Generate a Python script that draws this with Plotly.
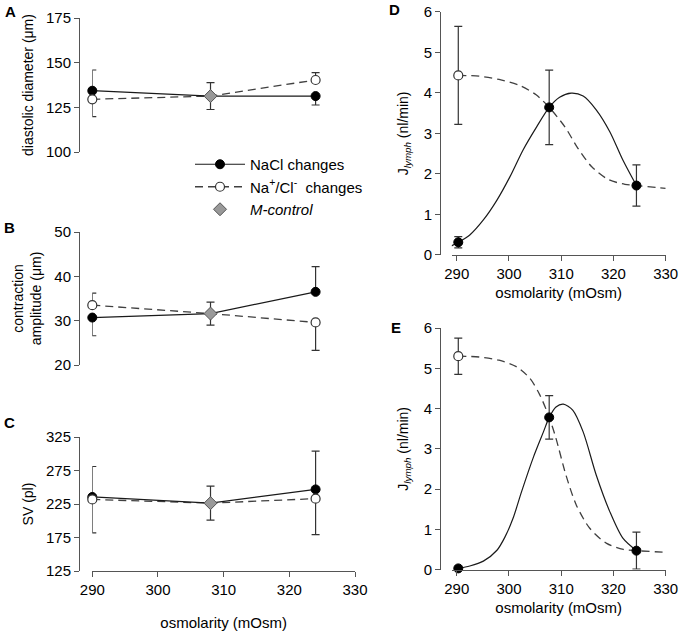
import plotly.graph_objects as go

W, H = 681, 633

# ---- panels A-C (left), osmolarity of the three solutions
osm_left = [290, 308, 324]
osm_ends = [290, 324]

# A: diastolic diameter (um)
a_ctrl, a_ctrl_err = 131.3, 7.5
a_nacl = [134.3, 131.3]
a_nacl_up = [11.6, 0]
a_nacl_dn = [0, 5.0]
a_ion = [129.5, 140.3]
a_ion_up = [0, 4.1]
a_ion_dn = [9.7, 0]

# B: contraction amplitude (um)
b_ctrl, b_ctrl_err = 31.6, 2.6
b_nacl = [30.7, 36.5]
b_nacl_up = [0, 5.7]
b_nacl_dn = [4.1, 0]
b_ion = [33.5, 29.6]
b_ion_up = [2.7, 0]
b_ion_dn = [0, 6.3]

# C: stroke volume (pl)
c_ctrl, c_ctrl_err = 226.3, 25.3
c_nacl = [235.5, 246.8]
c_nacl_up = [45.5, 57.0]
c_nacl_dn = [0, 0]
c_ion = [231.8, 233.0]
c_ion_up = [0, 0]
c_ion_dn = [50.0, 53.6]

# ---- panels D-E (right), lymph flow
osm_right = [290.3, 307.7, 324.4]

d_nacl = [0.31, 3.64, 1.71]
d_nacl_err = [0.14, 0.92, 0.51]
d_ion0, d_ion0_err = 4.43, 1.21
d_fit_nacl_x = [289.0, 290.3, 292.5, 295.1, 297.7, 300.2, 302.7, 305.3, 307.7,
                309.7, 311.9, 314.2, 316.7, 319.3, 321.8, 324.4]
d_fit_nacl_y = [0.22, 0.31, 0.49, 0.86, 1.35, 1.93, 2.59, 3.16, 3.64,
                3.89, 3.99, 3.92, 3.58, 3.04, 2.34, 1.71]
d_fit_ion_x = [290.3, 294.3, 298.1, 301.9, 305.2, 307.7, 310.7, 313.2, 315.8,
               319.0, 322.2, 324.4, 330.0]
d_fit_ion_y = [4.43, 4.41, 4.33, 4.19, 3.95, 3.64, 3.16, 2.63, 2.18,
               1.86, 1.74, 1.71, 1.64]

e_nacl = [0.03, 3.78, 0.47]
e_nacl_err = [0.03, 0.54, 0.46]
e_ion0, e_ion0_err = 5.30, 0.45
e_fit_nacl_x = [290.3, 292.5, 295.1, 297.7, 299.2, 300.8, 302.4, 304.7, 306.6,
                307.7, 309.0, 310.4, 312.2, 314.2, 316.7, 319.3, 321.8, 324.4]
e_fit_nacl_y = [0.03, 0.09, 0.21, 0.48, 0.80, 1.28, 1.93, 2.80, 3.42,
                3.78, 4.04, 4.11, 3.96, 3.42, 2.35, 1.44, 0.78, 0.47]
e_fit_ion_x = [290.3, 294.3, 298.1, 301.4, 304.0, 305.9, 307.7, 309.0, 310.9,
               312.9, 315.5, 318.7, 321.9, 324.4, 330.0]
e_fit_ion_y = [5.30, 5.28, 5.20, 5.04, 4.75, 4.34, 3.78, 3.26, 2.35,
               1.60, 1.02, 0.65, 0.50, 0.47, 0.43]

FONT = "Arial, Liberation Sans, sans-serif"
SOLID = "#1a1a1a"
DASHED = "#404040"
ERR = "#333333"
AXIS = "#555555"
DASH = "8px,5px"


def err(up, dn=None):
    return dict(type="data", array=up, arrayminus=dn if dn is not None else up,
                symmetric=False, color=ERR, thickness=1.2, width=4)


filled = dict(symbol="circle", size=9, color="black", line=dict(color="black", width=1))
hollow = dict(symbol="circle", size=9, color="white", line=dict(color="#333333", width=1.2))
diamond = dict(symbol="diamond", size=10, color="#999999", line=dict(color="#555555", width=1))

fig = go.Figure()

left = [
    ("", a_ctrl, a_ctrl_err, a_nacl, a_nacl_up, a_nacl_dn, a_ion, a_ion_up, a_ion_dn),
    ("2", b_ctrl, b_ctrl_err, b_nacl, b_nacl_up, b_nacl_dn, b_ion, b_ion_up, b_ion_dn),
    ("3", c_ctrl, c_ctrl_err, c_nacl, c_nacl_up, c_nacl_dn, c_ion, c_ion_up, c_ion_dn),
]
for k, ctrl, ctrl_e, nacl, n_up, n_dn, ion, i_up, i_dn in left:
    xa, ya = "x" + k, "y" + k
    fig.add_trace(go.Scatter(x=osm_left, y=[ion[0], ctrl, ion[1]], mode="lines",
                             line=dict(color=DASHED, width=1.3, dash=DASH), cliponaxis=False,
                             xaxis=xa, yaxis=ya, showlegend=False))
    fig.add_trace(go.Scatter(x=osm_left, y=[nacl[0], ctrl, nacl[1]], mode="lines",
                             line=dict(color=SOLID, width=1.2), cliponaxis=False,
                             xaxis=xa, yaxis=ya, showlegend=False))
    fig.add_trace(go.Scatter(x=osm_ends, y=nacl, mode="markers", marker=filled, cliponaxis=False,
                             error_y=err(n_up, n_dn), xaxis=xa, yaxis=ya, showlegend=False))
    fig.add_trace(go.Scatter(x=osm_ends, y=ion, mode="markers", marker=hollow, cliponaxis=False,
                             error_y=err(i_up, i_dn), xaxis=xa, yaxis=ya, showlegend=False))
    fig.add_trace(go.Scatter(x=[osm_left[1]], y=[ctrl], mode="markers", marker=diamond,
                             error_y=err([ctrl_e]), xaxis=xa, yaxis=ya, showlegend=False))

right = [
    ("4", d_nacl, d_nacl_err, d_ion0, d_ion0_err, d_fit_nacl_x, d_fit_nacl_y, d_fit_ion_x, d_fit_ion_y),
    ("5", e_nacl, e_nacl_err, e_ion0, e_ion0_err, e_fit_nacl_x, e_fit_nacl_y, e_fit_ion_x, e_fit_ion_y),
]
for k, nacl, nacl_e, ion0, ion0_e, fnx, fny, fix, fiy in right:
    xa, ya = "x" + k, "y" + k
    fig.add_trace(go.Scatter(x=fix, y=fiy, mode="lines", line_shape="spline", cliponaxis=False,
                             line=dict(color=DASHED, width=1.3, dash=DASH, smoothing=0.8),
                             xaxis=xa, yaxis=ya, showlegend=False))
    fig.add_trace(go.Scatter(x=fnx, y=fny, mode="lines", line_shape="spline", cliponaxis=False,
                             line=dict(color=SOLID, width=1.2, smoothing=0.8),
                             xaxis=xa, yaxis=ya, showlegend=False))
    fig.add_trace(go.Scatter(x=[osm_right[0]], y=[ion0], mode="markers", marker=hollow,
                             cliponaxis=False, error_y=err([ion0_e]),
                             xaxis=xa, yaxis=ya, showlegend=False))
    fig.add_trace(go.Scatter(x=osm_right, y=nacl, mode="markers", marker=filled,
                             cliponaxis=False, error_y=err(nacl_e),
                             xaxis=xa, yaxis=ya, showlegend=False))

# legend entries
fig.add_trace(go.Scatter(x=[None], y=[None], mode="lines+markers", name="NaCl changes",
                         line=dict(color=SOLID, width=1.2), marker=filled))
fig.add_trace(go.Scatter(x=[None], y=[None], mode="lines+markers",
                         name="Na<sup>+</sup>/Cl<sup>-</sup>  changes",
                         line=dict(color=DASHED, width=1.3, dash=DASH), marker=hollow))
fig.add_trace(go.Scatter(x=[None], y=[None], mode="markers", name="<i>M-control</i>",
                         marker=diamond))


def px_x(p):
    return p / W


def px_y(p):
    return 1 - p / H


tick_font = dict(family=FONT, size=15, color="black")
title_font = dict(family=FONT, size=14, color="black")


def yax(top, bottom, pos, rng, tickvals, title, standoff=8):
    return dict(domain=[px_y(bottom), px_y(top)], range=rng, tickvals=tickvals,
                anchor="free", position=pos, showline=True, linecolor=AXIS, linewidth=1,
                ticks="outside", ticklen=5, tickcolor=AXIS, showgrid=False, zeroline=False,
                tickfont=tick_font, title=dict(text=title, font=title_font, standoff=standoff),
                automargin=False)


def xax(left_px, right_px, rng, anchor, visible=True, standoff=8):
    return dict(domain=[px_x(left_px), px_x(right_px)], range=rng, anchor=anchor,
                visible=visible, tickvals=[290, 300, 310, 320, 330], showline=True,
                linecolor=AXIS, linewidth=1, ticks="outside", ticklen=5, tickcolor=AXIS,
                showgrid=False, zeroline=False, tickfont=tick_font, automargin=False,
                title=dict(text="osmolarity (mOsm)", font=dict(family=FONT, size=15, color="black"),
                           standoff=standoff))


left_pos = px_x(79)
right_pos = px_x(440)
fig.update_layout(
    width=W, height=H,
    margin=dict(l=0, r=0, t=0, b=0),
    paper_bgcolor="white", plot_bgcolor="rgba(0,0,0,0)",
    font=dict(family=FONT, color="black"),
    xaxis=xax(92.3, 355, [290, 330], "y", visible=False),
    yaxis=yax(18, 152, left_pos, [100, 175], [100, 125, 150, 175], "diastolic diameter (μm)"),
    xaxis2=xax(92.3, 355, [290, 330], "y2", visible=False),
    yaxis2=yax(232, 365, left_pos, [20, 50], [20, 30, 40, 50], "contraction<br>amplitude (μm)"),
    xaxis3=xax(92.3, 355, [290, 330], "y3", standoff=20),
    yaxis3=yax(437, 571, left_pos, [125, 325], [125, 175, 225, 275, 325], "SV (pl)"),
    xaxis4=xax(451.7, 665.7, [289.04, 330], "y4", standoff=6),
    yaxis4=yax(11.8, 254.8, right_pos, [0, 6], [0, 1, 2, 3, 4, 5, 6],
               "J<sub><i>lymph</i></sub> (nl/min)", standoff=10),
    xaxis5=xax(451.7, 665.7, [289.04, 330], "y5", standoff=6),
    yaxis5=yax(328, 569.6, right_pos, [0, 6], [0, 1, 2, 3, 4, 5, 6],
               "J<sub><i>lymph</i></sub> (nl/min)", standoff=10),
    legend=dict(x=px_x(190), y=px_y(148), xanchor="left", yanchor="top",
                bgcolor="rgba(0,0,0,0)", font=dict(family=FONT, size=15, color="black"),
                itemwidth=50, tracegroupgap=0),
)

for letter, lx, ly in [("A", 10, 11), ("B", 9, 228), ("C", 9, 422), ("D", 395, 9), ("E", 396, 328)]:
    fig.add_annotation(text="<b>%s</b>" % letter, x=px_x(lx), y=px_y(ly), xref="paper",
                       yref="paper", showarrow=False, xanchor="center", yanchor="middle",
                       font=dict(family=FONT, size=15, color="black"))

# drop the browser's default 8px body margin so the figure sits at the page corner
fig.write_html("out.html", config={"displayModeBar": False},
               post_script="document.body.style.margin = '0';")
